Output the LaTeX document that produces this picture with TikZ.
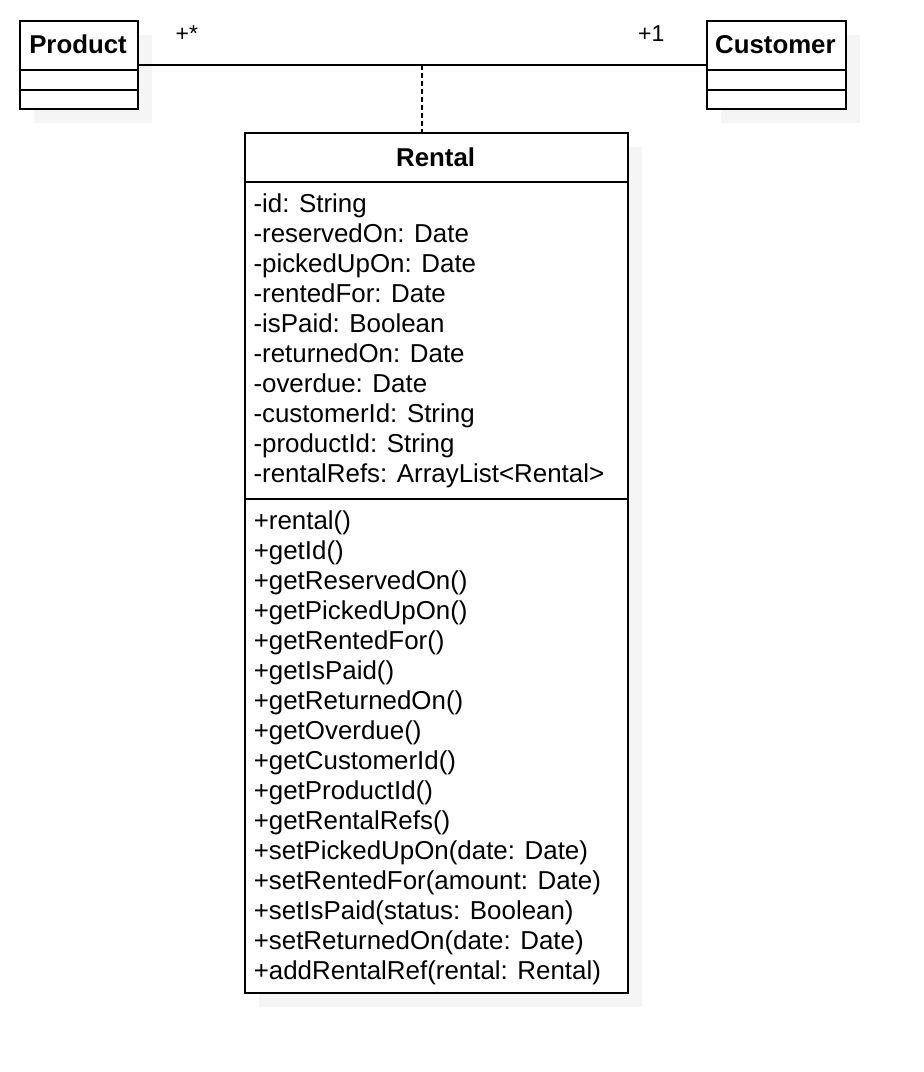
\documentclass[tikz,border=0pt]{standalone}
\usepackage{fontspec}
\setmainfont{Liberation Sans}
\usetikzlibrary{shadows,calc}
\definecolor{shadowgray}{HTML}{F5F5F5}
\tikzset{
  x=1pt, y=-1pt,
  umlbox/.style={draw=black, line width=2pt, fill=white, inner sep=0pt, anchor=north west,
    drop shadow={shadow xshift=14pt, shadow yshift=-14pt, fill=shadowgray, opacity=1}},
  divider/.style={draw=black, line width=2pt},
  assoc/.style={draw=black, line width=2pt},
  assocdash/.style={draw=black, line width=1.6pt, dash pattern=on 5pt off 3pt},
  umltitle/.style={inner sep=0pt, anchor=base, font=\fontsize{25.8}{30}\selectfont\bfseries},
  member/.style={inner sep=0pt, anchor=base west, font=\fontsize{25.9}{30}\selectfont},
  mult/.style={inner sep=0pt, anchor=base west, font=\fontsize{23}{27}\selectfont},
}
\begin{document}
\begin{tikzpicture}
\useasboundingbox[fill=white] (0,0) rectangle (924,1072);

% Product
\node[umlbox, minimum width=117.4pt, minimum height=88.2pt] (product) at (19.3,19.5) {};
\draw[divider] (product.west |- 0,70) -- (product.east |- 0,70);
\draw[divider] (product.west |- 0,89.5) -- (product.east |- 0,89.5);
\node[umltitle] (ptitle) at (78,53.8) {Product};

% Customer
\node[umlbox, minimum width=139.6pt, minimum height=88.2pt] (customer) at (705.7,19.5) {};
\draw[divider] (customer.west |- 0,70) -- (customer.east |- 0,70);
\draw[divider] (customer.west |- 0,89.5) -- (customer.east |- 0,89.5);
\node[umltitle] (ctitle) at (775.4,53.8) {Customer};

% Rental
\node[umlbox, minimum width=383.3pt, minimum height=860.2pt] (rental) at (244,131.5) {};
\draw[divider] (rental.west |- 0,181.8) -- (rental.east |- 0,181.8);
\draw[divider] (rental.west |- 0,498.5) -- (rental.east |- 0,498.5);
\node[umltitle] (rtitle) at (435.6,166) {Rental};

\foreach \t [count=\i] in {-id: String, -reservedOn: Date, -pickedUpOn: Date, -rentedFor: Date,
  -isPaid: Boolean, -returnedOn: Date, -overdue: Date, -customerId: String,
  -productId: String, -rentalRefs: ArrayList<Rental>}
  \node[member] (attr\i) at (253.3,{212+30*(\i-1)}) {\t};

\foreach \t [count=\i] in {+rental(), +getId(), +getReservedOn(), +getPickedUpOn(),
  +getRentedFor(), +getIsPaid(), +getReturnedOn(), +getOverdue(), +getCustomerId(),
  +getProductId(), +getRentalRefs(), +setPickedUpOn(date: Date), +setRentedFor(amount: Date),
  +setIsPaid(status: Boolean), +setReturnedOn(date: Date), +addRentalRef(rental: Rental)}
  \node[member] (op\i) at (253.6,{529+30*(\i-1)}) {\t};

% association
\draw[assoc] (product.east) -- (customer.west);
\coordinate (assocmid) at ($(product.east)!0.5!(customer.west)$);
\draw[assocdash] (assocmid) -- (assocmid |- rental.north);

\node[mult] (mstar) at (175.5,41.5) {+*};
\node[mult] (mone) at (638,41.5) {+1};
\end{tikzpicture}
\end{document}
